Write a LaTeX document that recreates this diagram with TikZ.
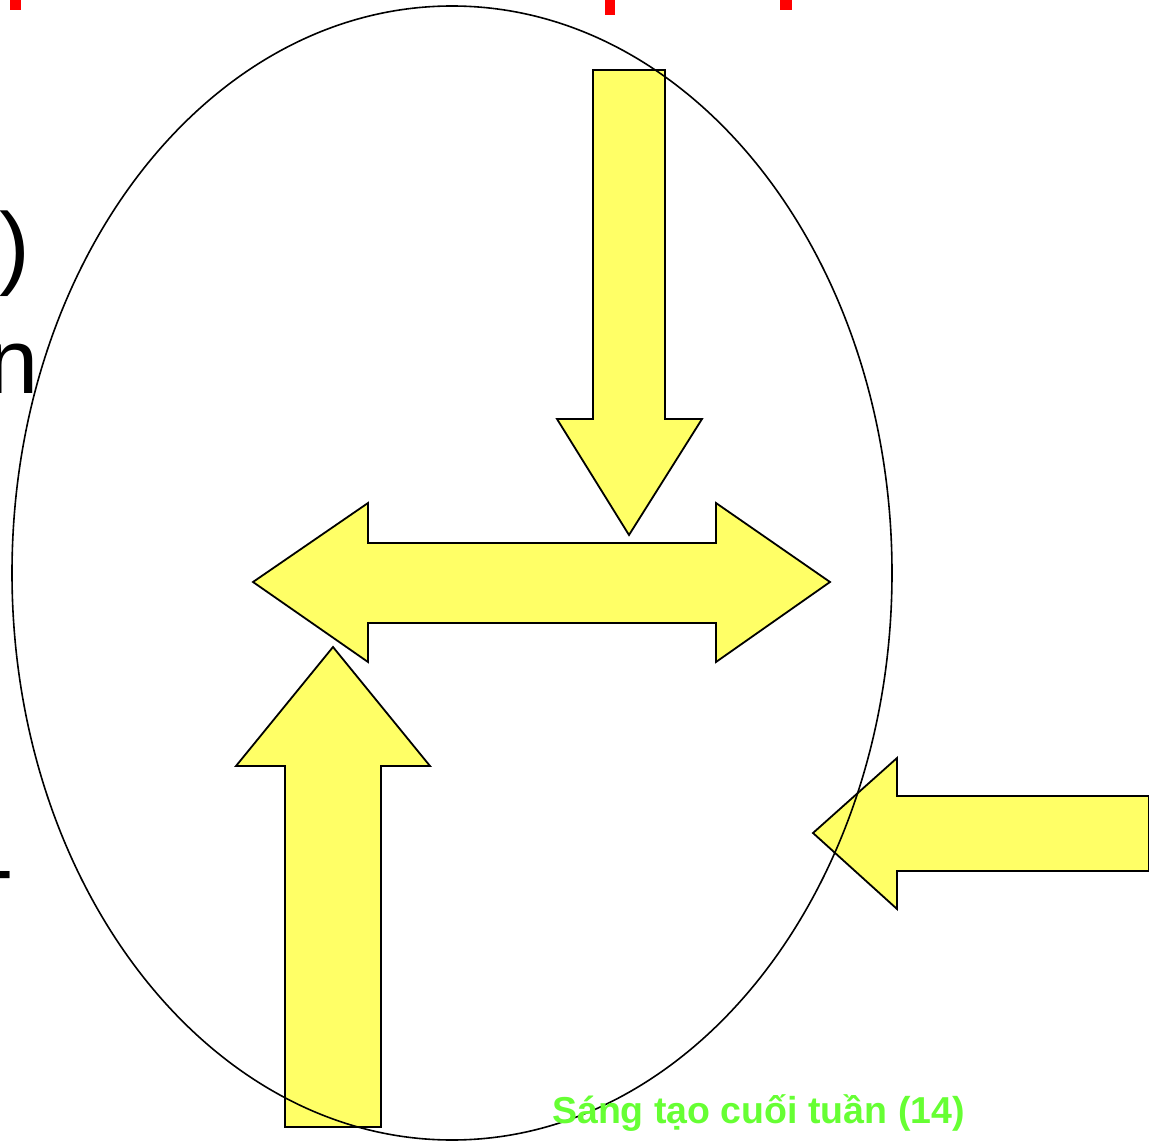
\documentclass[tikz,border=0pt]{standalone}
\usepackage{fontspec}
\setmainfont{Liberation Sans}
\definecolor{arrowyellow}{RGB}{255,255,102}
\definecolor{labelgreen}{RGB}{102,255,51}
\begin{document}
\begin{tikzpicture}[x=1pt,y=-1pt]
        \tikzstyle{blockarrow}=[draw=black,fill=arrowyellow,line width=1.8pt,line join=miter]
        \tikzstyle{cuttext}=[inner sep=0pt,font=\fontsize{92}{110}\selectfont]
        \tikzstyle{redbit}=[fill=red,draw=none]
        \useasboundingbox (0,0) rectangle (1149,1142);
        \begin{scope}
                % bits of text cut off at the edges
                \fill[redbit] (10,0) rectangle (21,10);
                \fill[redbit] (605,0) rectangle (615,15);
                \fill[redbit] (780,0) rectangle (792,10);
                \node [cuttext,anchor=base east] (paren) at (30,278) {)};
                \node [cuttext,anchor=base east] (nletter) at (39,393) {n};
                \node [cuttext,anchor=base east] (dash) at (14,899) {-};
        \end{scope}
        \begin{scope}
                % yellow block arrows
                \path[blockarrow] (593,70) -- (665,70) -- (665,419) -- (702,419) -- (629,535) -- (557,419) -- (593,419) -- cycle;
                \path[blockarrow] (253,582) -- (368,503) -- (368,543) -- (716,543) -- (716,503) -- (830,582) -- (716,662) -- (716,623) -- (368,623) -- (368,662) -- cycle;
                \path[blockarrow] (333,647) -- (430,766) -- (381,766) -- (381,1127) -- (285,1127) -- (285,766) -- (236,766) -- cycle;
                \path[blockarrow] (813,833) -- (897,758) -- (897,796) -- (1149,796) -- (1149,871) -- (897,871) -- (897,909) -- cycle;
        \end{scope}
        \draw[line width=1.6pt] (452,573) ellipse [x radius=440,y radius=567];
        \node [inner sep=0pt,anchor=base west,text=labelgreen,font=\fontsize{37.5}{45}\selectfont\bfseries] (caption) at (552,1123) {Sáng tạo cuối tuần (14)};
\end{tikzpicture}
\end{document}
